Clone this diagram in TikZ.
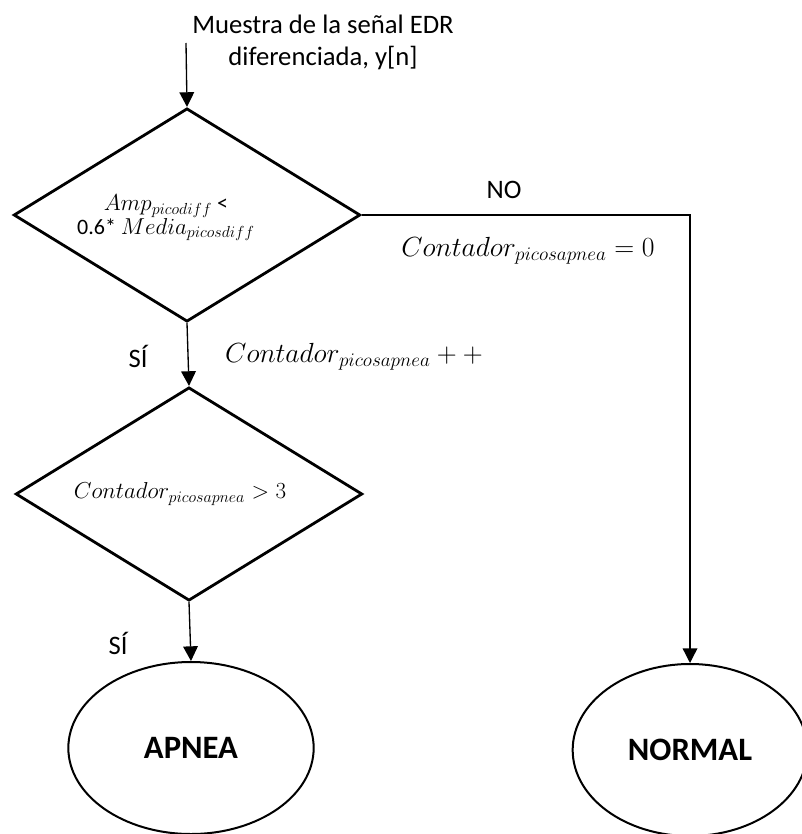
\documentclass[tikz,border=0pt]{standalone}
\usepackage{fontspec}
\setmainfont{Carlito}
\usetikzlibrary{shapes.geometric,arrows.meta,positioning}

\tikzset{
  decision/.style={diamond, draw, line width=2.1pt, minimum width=260pt, minimum height=160pt, inner sep=0pt},
  terminal/.style={ellipse, draw, line width=1.5pt, minimum height=129pt, font=\bfseries\fontsize{24.5}{29}\selectfont},
  flow/.style={-{Triangle[width=11pt,length=11pt]}, line width=1pt},
  lbl/.style={font=\fontsize{20}{24}\selectfont, align=center},
  eqn/.style={font=\fontsize{21}{24}\selectfont},
}

\begin{document}
\begin{tikzpicture}[x=0.75pt,y=-0.75pt]
  \useasboundingbox (0,0) rectangle (801,834);
  % entrada y decisiones
  \node[lbl] (input) at (323,42) {Muestra de la señal EDR\\diferenciada, y[n]};
  \coordinate (start) at (186,43);
  \node[decision] (amp) at (187,215) {};
  \node[align=center, font=\fontsize{16.5}{15.5}\selectfont] (ampcond) at (166,218)
    {$Amp_{picodiff}$ <\\0.6* $Media_{picosdiff}$};
  \node[decision] (count) at (189,494) {};
  \node[font=\fontsize{16.5}{18}\selectfont] (countcond) at (180,494) {$Contador_{picosapnea}>3$};
  % estados finales
  \node[terminal, minimum width=184pt] (apnea) at (191,748) {APNEA};
  \node[terminal, minimum width=176pt] (normal) at (690,750) {NORMAL};

  \draw[flow] (start) -- (amp.north);
  \draw[flow] (amp.south) -- (count.north);
  \draw[flow] (count.south) -- (apnea.north);
  \draw[flow] (amp.east) -- (amp.east -| normal.north) -- (normal.north);

  \node[lbl] (no) at (504,190) {NO};
  \node[eqn] (reset) at (528,251) {$Contador_{picosapnea}=0$};
  \node[lbl] (yes1) at (138,356) {SÍ};
  \node[eqn] (incr) at (354,357) {$Contador_{picosapnea}++$};
  \node[lbl] (yes2) at (118,643) {SÍ};
\end{tikzpicture}
\end{document}
